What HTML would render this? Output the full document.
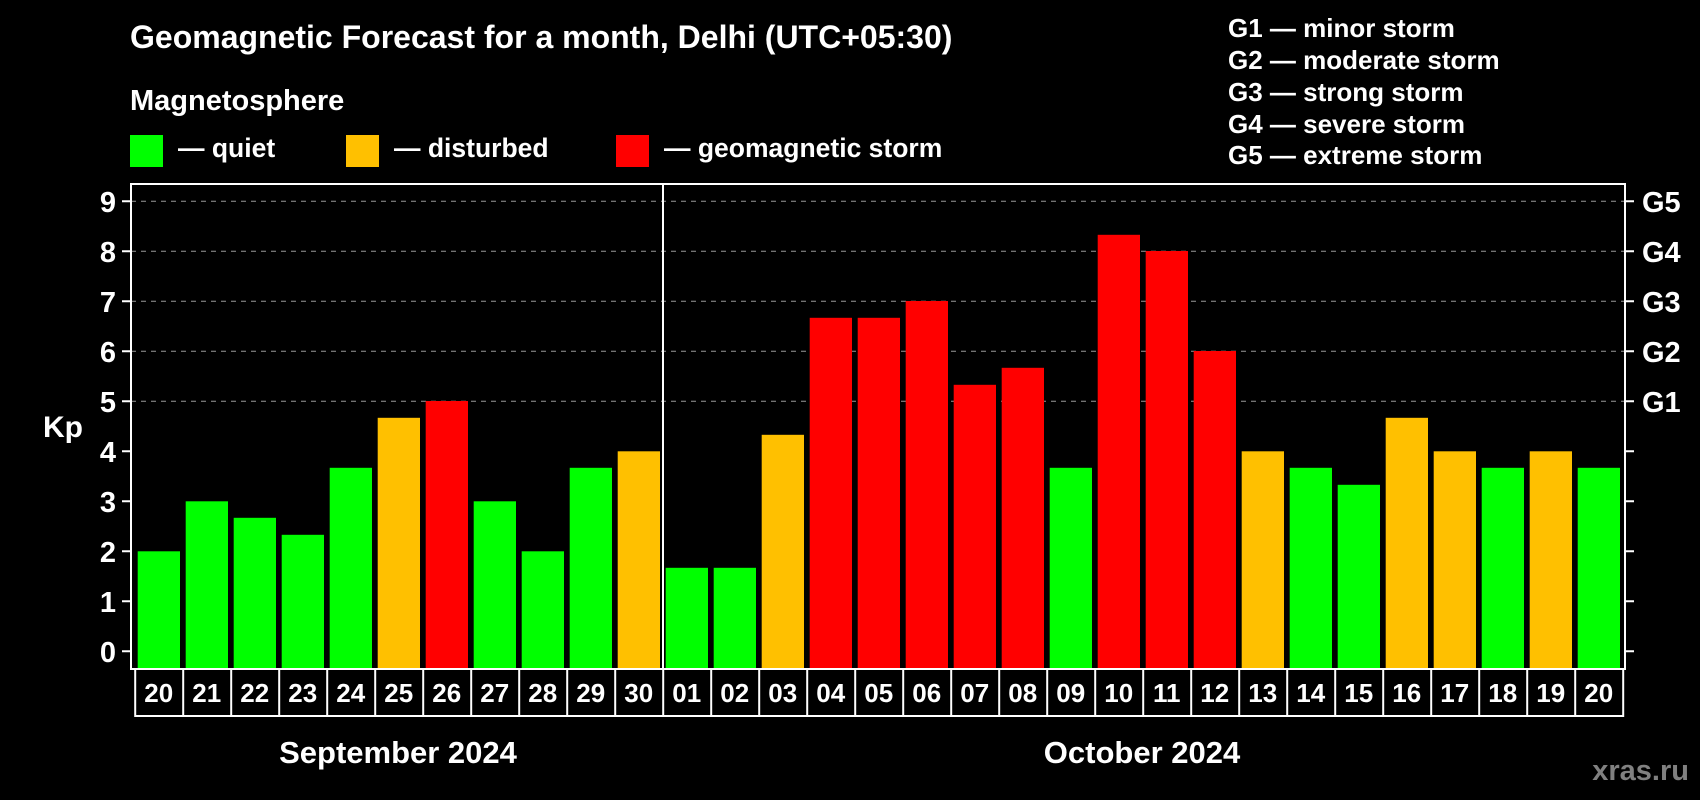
<!DOCTYPE html><html><head><meta charset="utf-8"><style>body{margin:0;background:#000}svg{display:block}text{font-family:"Liberation Sans",sans-serif;font-weight:bold;fill:#fff}</style></head><body>
<svg width="1700" height="800" xmlns="http://www.w3.org/2000/svg">
<rect width="1700" height="800" fill="#000"/>
<text x="130" y="48" font-size="32">Geomagnetic Forecast for a month, Delhi (UTC+05:30)</text>
<text x="130" y="110" font-size="29">Magnetosphere</text>
<rect x="130" y="135" width="33" height="32" fill="#00ff00"/><text x="178" y="157" font-size="26.5">— quiet</text>
<rect x="346" y="135" width="33" height="32" fill="#ffc000"/><text x="394" y="157" font-size="26.5">— disturbed</text>
<rect x="616" y="135" width="33" height="32" fill="#ff0000"/><text x="664" y="157" font-size="26.5">— geomagnetic storm</text>
<g font-size="26"><text x="1228" y="37">G1 — minor storm</text><text x="1228" y="69">G2 — moderate storm</text><text x="1228" y="101">G3 — strong storm</text><text x="1228" y="133">G4 — severe storm</text><text x="1228" y="164">G5 — extreme storm</text></g>
<g stroke="#999" stroke-width="1" stroke-dasharray="5,5">
<line x1="131" x2="1625" y1="201.3" y2="201.3"/><line x1="131" x2="1625" y1="251.3" y2="251.3"/><line x1="131" x2="1625" y1="301.3" y2="301.3"/><line x1="131" x2="1625" y1="351.3" y2="351.3"/><line x1="131" x2="1625" y1="401.3" y2="401.3"/>
</g>
<g>
<rect x="137.7" y="551.3" width="42.3" height="116.7" fill="#00ff00"/>
<rect x="185.7" y="501.3" width="42.3" height="166.7" fill="#00ff00"/>
<rect x="233.7" y="517.8" width="42.3" height="150.2" fill="#00ff00"/>
<rect x="281.7" y="534.8" width="42.3" height="133.2" fill="#00ff00"/>
<rect x="329.7" y="467.8" width="42.3" height="200.2" fill="#00ff00"/>
<rect x="377.7" y="417.8" width="42.3" height="250.2" fill="#ffc000"/>
<rect x="425.7" y="401" width="42.3" height="267" fill="#ff0000"/>
<rect x="473.7" y="501.3" width="42.3" height="166.7" fill="#00ff00"/>
<rect x="521.7" y="551.3" width="42.3" height="116.7" fill="#00ff00"/>
<rect x="569.7" y="467.8" width="42.3" height="200.2" fill="#00ff00"/>
<rect x="617.7" y="451.3" width="42.3" height="216.7" fill="#ffc000"/>
<rect x="665.7" y="567.8" width="42.3" height="100.2" fill="#00ff00"/>
<rect x="713.7" y="567.8" width="42.3" height="100.2" fill="#00ff00"/>
<rect x="761.7" y="434.8" width="42.3" height="233.2" fill="#ffc000"/>
<rect x="809.7" y="317.8" width="42.3" height="350.2" fill="#ff0000"/>
<rect x="857.7" y="317.8" width="42.3" height="350.2" fill="#ff0000"/>
<rect x="905.7" y="301" width="42.3" height="367" fill="#ff0000"/>
<rect x="953.7" y="384.8" width="42.3" height="283.2" fill="#ff0000"/>
<rect x="1001.7" y="367.8" width="42.3" height="300.2" fill="#ff0000"/>
<rect x="1049.7" y="467.8" width="42.3" height="200.2" fill="#00ff00"/>
<rect x="1097.7" y="234.8" width="42.3" height="433.2" fill="#ff0000"/>
<rect x="1145.7" y="251" width="42.3" height="417" fill="#ff0000"/>
<rect x="1193.7" y="351" width="42.3" height="317" fill="#ff0000"/>
<rect x="1241.7" y="451.3" width="42.3" height="216.7" fill="#ffc000"/>
<rect x="1289.7" y="467.8" width="42.3" height="200.2" fill="#00ff00"/>
<rect x="1337.7" y="484.8" width="42.3" height="183.2" fill="#00ff00"/>
<rect x="1385.7" y="417.8" width="42.3" height="250.2" fill="#ffc000"/>
<rect x="1433.7" y="451.3" width="42.3" height="216.7" fill="#ffc000"/>
<rect x="1481.7" y="467.8" width="42.3" height="200.2" fill="#00ff00"/>
<rect x="1529.7" y="451.3" width="42.3" height="216.7" fill="#ffc000"/>
<rect x="1577.7" y="467.8" width="42.3" height="200.2" fill="#00ff00"/>
</g>
<g stroke="#fff" stroke-width="2" fill="none">
<rect x="131" y="184" width="1494" height="485"/>
<line x1="663" x2="663" y1="184" y2="669"/>
<rect x="135.2" y="669" width="1488" height="47"/>
<path d="M183.2 669V716M231.2 669V716M279.2 669V716M327.2 669V716M375.2 669V716M423.2 669V716M471.2 669V716M519.2 669V716M567.2 669V716M615.2 669V716M663.2 669V716M711.2 669V716M759.2 669V716M807.2 669V716M855.2 669V716M903.2 669V716M951.2 669V716M999.2 669V716M1047.2 669V716M1095.2 669V716M1143.2 669V716M1191.2 669V716M1239.2 669V716M1287.2 669V716M1335.2 669V716M1383.2 669V716M1431.2 669V716M1479.2 669V716M1527.2 669V716M1575.2 669V716"/>
<path d="M122 651.3H131M122 601.3H131M122 551.3H131M122 501.3H131M122 451.3H131M122 401.3H131M122 351.3H131M122 301.3H131M122 251.3H131M122 201.3H131M1625 651.3H1634M1625 601.3H1634M1625 551.3H1634M1625 501.3H1634M1625 451.3H1634M1625 401.3H1634M1625 351.3H1634M1625 301.3H1634M1625 251.3H1634M1625 201.3H1634"/>
</g>
<g font-size="26" text-anchor="middle">
<text x="158.7" y="702">20</text><text x="206.7" y="702">21</text><text x="254.7" y="702">22</text><text x="302.7" y="702">23</text><text x="350.7" y="702">24</text><text x="398.7" y="702">25</text><text x="446.7" y="702">26</text><text x="494.7" y="702">27</text><text x="542.7" y="702">28</text><text x="590.7" y="702">29</text><text x="638.7" y="702">30</text><text x="686.7" y="702">01</text><text x="734.7" y="702">02</text><text x="782.7" y="702">03</text><text x="830.7" y="702">04</text><text x="878.7" y="702">05</text><text x="926.7" y="702">06</text><text x="974.7" y="702">07</text><text x="1022.7" y="702">08</text><text x="1070.7" y="702">09</text><text x="1118.7" y="702">10</text><text x="1166.7" y="702">11</text><text x="1214.7" y="702">12</text><text x="1262.7" y="702">13</text><text x="1310.7" y="702">14</text><text x="1358.7" y="702">15</text><text x="1406.7" y="702">16</text><text x="1454.7" y="702">17</text><text x="1502.7" y="702">18</text><text x="1550.7" y="702">19</text><text x="1598.7" y="702">20</text>
</g>
<g font-size="29" text-anchor="end">
<text x="116" y="661.8">0</text><text x="116" y="611.8">1</text><text x="116" y="561.8">2</text><text x="116" y="511.8">3</text><text x="116" y="461.8">4</text><text x="116" y="411.8">5</text><text x="116" y="361.8">6</text><text x="116" y="311.8">7</text><text x="116" y="261.8">8</text><text x="116" y="211.8">9</text>
</g>
<g font-size="29">
<text x="1642" y="411.8">G1</text><text x="1642" y="361.8">G2</text><text x="1642" y="311.8">G3</text><text x="1642" y="261.8">G4</text><text x="1642" y="211.8">G5</text>
</g>
<text x="43" y="437" font-size="30">Kp</text>
<text x="398" y="763" font-size="31" text-anchor="middle">September 2024</text>
<text x="1142" y="763" font-size="31" text-anchor="middle">October 2024</text>
<text x="1689" y="780" font-size="29" text-anchor="end" style="fill:#808080">xras.ru</text>
</svg></body></html>
